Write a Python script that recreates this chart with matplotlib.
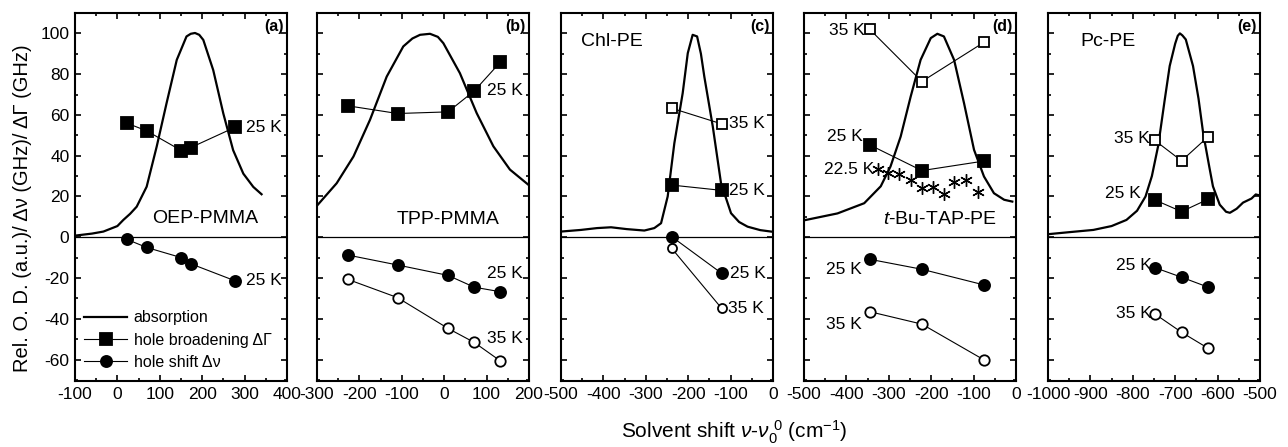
import numpy as np
import matplotlib
matplotlib.use("Agg")
import matplotlib.pyplot as plt
from matplotlib.ticker import MultipleLocator

plt.rcParams['font.family'] = ['Liberation Sans', 'DejaVu Sans']
plt.rcParams['mathtext.fontset'] = 'custom'
plt.rcParams['mathtext.rm'] = 'Liberation Sans'
plt.rcParams['mathtext.it'] = 'Liberation Sans:italic'
plt.rcParams['axes.unicode_minus'] = False

# =============================================================================
# DATA
# =============================================================================

# (a) OEP-PMMA
a_abs_x = [-100, -60, -33, 0, 14, 30, 45.5, 69, 92.7, 116, 140, 163, 173, 183, 193, 202.6, 226, 249.8, 273, 297, 320.5, 340]
a_abs_y = [0.8, 1.8, 2.8, 5.5, 8.5, 11.5, 15, 24.8, 44.5, 65.8, 87, 98.5, 99.8, 100.2, 99.3, 96.8, 82, 60.7, 42.7, 31.2, 24.7, 21.1]
a_x = [22, 69, 151, 173, 278]
a_broad_25 = [56, 52.2, 42.5, 44, 54]
a_shift_25 = [-1, -5, -10, -13, -21.4]

# (b) TPP-PMMA
b_abs_x = [-300, -253.6, -214, -175, -135.6, -96.5, -75, -57, -33.5, -15, -2, 37, 76.6, 116, 155, 200]
b_abs_y = [15.5, 26.5, 39.6, 57.6, 78.8, 93.6, 97.5, 99.3, 99.8, 98.3, 95.2, 80.5, 60.9, 44.6, 33.2, 25.5]
b_x = [-228, -110, 9, 71, 132]
b_broad_25 = [64.5, 60.7, 61.5, 71.8, 85.8]
b_shift_25 = [-8.7, -13.6, -18.7, -24.5, -26.7]
b_shift_35 = [-20.6, -29.6, -44.7, -51.6, -60.6]

# (c) Chl-PE
c_abs_x = [-500, -453, -415, -382, -345, -303.5, -280, -264, -248.4, -232.7, -213, -201, -189.5, -179, -170, -162, -142, -122.6, -99, -80, -60, -30, -4.7]
c_abs_y = [2.8, 3.6, 4.5, 4.9, 4.0, 3.3, 4.5, 6.9, 20, 46.1, 70.7, 90.3, 99.3, 98.5, 90, 78.8, 54.3, 26.5, 11.8, 7.5, 5.2, 3.5, 2.8]
c_x = [-239, -121]
c_broad_35 = [63.3, 55.6]
c_broad_25 = [25.6, 23]
c_shift_25 = [0.3, -17.7]
c_shift_35 = [-5.4, -34.9]

# (d) t-Bu-TAP-PE
d_abs_x = [-500, -421, -358, -319, -296, -272, -248.4, -225, -201, -185.5, -170, -146, -122.6, -99, -75.5, -52, -28, -8.7]
d_abs_y = [8.3, 11.7, 16.7, 25, 34.7, 49.4, 69, 87, 97.7, 99.8, 98.5, 87, 65.8, 42.9, 29.8, 21.6, 18.4, 17.5]
d_x = [-345, -222, -75]
d_broad_35 = [102, 76.4, 95.7]
d_broad_25 = [45.3, 32.7, 37.4]
d_shift_25 = [-10.8, -15.7, -23.4]
d_shift_35 = [-36.5, -42.6, -60.2]
d_star_x = [-326, -301, -275, -248, -221, -195, -170, -145.5, -119, -89]
d_star_y = [33.7, 31.6, 30.9, 28.1, 24.0, 24.5, 21.3, 27.3, 28.1, 22.4]

# (e) Pc-PE
e_abs_x = [-1000, -950, -893, -850, -815, -790, -770, -755, -740, -725, -713, -700, -694, -689, -683, -675, -658, -645, -634, -620, -611, -595, -580, -571, -555, -540, -520, -510, -500]
e_abs_y = [1.5, 2.5, 3.6, 5.5, 8.5, 13, 20, 30, 45, 67, 84, 95, 98.8, 100, 99, 97, 84, 68, 51, 35, 25, 16, 12.5, 12, 14, 17, 19, 21, 20.5]
e_x = [-748, -685, -622]
e_broad_35 = [47.5, 37.5, 49.4]
e_broad_25 = [18.3, 12.6, 18.7]
e_shift_25 = [-14.9, -19.6, -24.5]
e_shift_35 = [-37.6, -46.6, -54.5]

y_ticks = [-60, -40, -20, 0, 20, 40, 60, 80, 100]

# =============================================================================
# DRAWING
# =============================================================================

FS_TICK = 12.5
FS_NOTE = 12.5


def style_axes(ax, xlim, show_y):
    ax.set_xlim(*xlim)
    ax.set_ylim(-70.5, 110)
    ax.set_xticks(np.arange(xlim[0], xlim[1] + 1, 100))
    ax.xaxis.set_minor_locator(MultipleLocator(50))
    ax.set_yticks(y_ticks)
    ax.yaxis.set_minor_locator(MultipleLocator(10))
    ax.tick_params(which='both', direction='in', top=True, right=True, width=1.2)
    ax.tick_params(which='major', length=4.5, labelsize=FS_TICK, pad=4)
    ax.tick_params(which='minor', length=2.5)
    if not show_y:
        ax.tick_params(labelleft=False)
    for s in ax.spines.values():
        s.set_linewidth(1.5)
    ax.axhline(0, color='black', lw=0.9, zorder=1)


def absorption(ax, x, y):
    return ax.plot(x, y, color='black', lw=1.6, zorder=2)[0]


def series(ax, x, y, marker, filled, ms=8.5):
    return ax.plot(x, y, color='black', lw=0.8, marker=marker, ms=ms,
                   mfc='black' if filled else 'white', mec='black', mew=1.3, zorder=3)[0]


def panel_label(ax, s):
    ax.text(0.985, 0.985, s, transform=ax.transAxes, ha='right', va='top',
            fontsize=11.5, fontweight='bold')


fig = plt.figure(figsize=(12.88, 4.47), dpi=100)
lefts = [75, 317, 561, 804, 1048]
axes = [fig.add_axes([l / 1288, 1 - 381 / 447, 212 / 1288, 368 / 447]) for l in lefts]
ax_a, ax_b, ax_c, ax_d, ax_e = axes

# (a)
style_axes(ax_a, (-100, 400), True)
h_abs = absorption(ax_a, a_abs_x, a_abs_y)
h_sq = series(ax_a, a_x, a_broad_25, 's', True)
h_ci = series(ax_a, a_x, a_shift_25, 'o', True, ms=8)
ax_a.text(304, 54, '25 K', fontsize=FS_NOTE, va='center')
ax_a.text(304, -21.4, '25 K', fontsize=FS_NOTE, va='center')
ax_a.text(206, 9.4, 'OEP-PMMA', fontsize=14, ha='center', va='center')
panel_label(ax_a, '(a)')
ax_a.legend([h_abs, h_sq, h_ci], ['absorption', 'hole broadening ΔΓ', 'hole shift Δν'],
            loc='lower left', bbox_to_anchor=(-0.01, 0.0), frameon=False, fontsize=11.5,
            handlelength=2.7, handletextpad=0.4, labelspacing=0.45, borderaxespad=0.3)

# (b)
style_axes(ax_b, (-300, 200), False)
absorption(ax_b, b_abs_x, b_abs_y)
series(ax_b, b_x, b_broad_25, 's', True)
series(ax_b, b_x, b_shift_25, 'o', True, ms=8)
series(ax_b, b_x, b_shift_35, 'o', False, ms=7.5)
ax_b.text(102, 72, '25 K', fontsize=FS_NOTE, va='center')
ax_b.text(100, -17.7, '25 K', fontsize=FS_NOTE, va='center')
ax_b.text(100, -49.6, '35 K', fontsize=FS_NOTE, va='center')
ax_b.text(10, 8.8, 'TPP-PMMA', fontsize=14, ha='center', va='center')
panel_label(ax_b, '(b)')

# (c)
style_axes(ax_c, (-500, 0), False)
absorption(ax_c, c_abs_x, c_abs_y)
series(ax_c, c_x, c_broad_35, 's', False, ms=7.5)
series(ax_c, c_x, c_broad_25, 's', True)
series(ax_c, c_x, c_shift_25, 'o', True, ms=8)
series(ax_c, c_x, c_shift_35, 'o', False, ms=6.5)
ax_c.text(-104, 55.6, '35 K', fontsize=FS_NOTE, va='center')
ax_c.text(-104, 23, '25 K', fontsize=FS_NOTE, va='center')
ax_c.text(-102, -17.7, '25 K', fontsize=FS_NOTE, va='center')
ax_c.text(-107, -34.9, '35 K', fontsize=FS_NOTE, va='center')
ax_c.text(-453, 96, 'Chl-PE', fontsize=14, ha='left', va='center')
panel_label(ax_c, '(c)')

# (d)
style_axes(ax_d, (-500, 0), False)
absorption(ax_d, d_abs_x, d_abs_y)
series(ax_d, d_x, d_broad_35, 's', False, ms=7.5)
series(ax_d, d_x, d_broad_25, 's', True)
series(ax_d, d_x, d_shift_25, 'o', True, ms=8)
series(ax_d, d_x, d_shift_35, 'o', False, ms=7.5)
ax_d.plot(d_star_x, d_star_y, ls='none', marker=(6, 2, 0), ms=9, mec='black', mew=1.0, zorder=3)
ax_d.text(-357, 101.4, '35 K', fontsize=FS_NOTE, ha='right', va='center')
ax_d.text(-361, 49.4, '25 K', fontsize=FS_NOTE, ha='right', va='center')
ax_d.text(-335, 33.2, '22.5 K', fontsize=FS_NOTE, ha='right', va='center')
ax_d.text(-364, -16, '25 K', fontsize=FS_NOTE, ha='right', va='center')
ax_d.text(-364, -43, '35 K', fontsize=FS_NOTE, ha='right', va='center')
ax_d.text(-45, 8.5, r'$\mathit{t}$-Bu-TAP-PE', fontsize=14, ha='right', va='center')
panel_label(ax_d, '(d)')

# (e)
style_axes(ax_e, (-1000, -500), False)
absorption(ax_e, e_abs_x, e_abs_y)
series(ax_e, e_x, e_broad_35, 's', False, ms=7.5)
series(ax_e, e_x, e_broad_25, 's', True)
series(ax_e, e_x, e_shift_25, 'o', True, ms=8)
series(ax_e, e_x, e_shift_35, 'o', False, ms=7.5)
ax_e.text(-760, 48.6, '35 K', fontsize=FS_NOTE, ha='right', va='center')
ax_e.text(-782, 21.6, '25 K', fontsize=FS_NOTE, ha='right', va='center')
ax_e.text(-755, -13.9, '25 K', fontsize=FS_NOTE, ha='right', va='center')
ax_e.text(-755, -37.3, '35 K', fontsize=FS_NOTE, ha='right', va='center')
ax_e.text(-924, 96, 'Pc-PE', fontsize=14, ha='left', va='center')
panel_label(ax_e, '(e)')

fig.text(23 / 1288, 1 - 208 / 447, 'Rel. O. D. (a.u.)/ Δν (GHz)/ ΔΓ (GHz)',
         rotation=90, ha='center', va='center', fontsize=14.5)
fig.text(734 / 1288, 1 - 432 / 447, r'Solvent shift $\nu$-$\nu_0^{\ 0}$ (cm$^{-1}$)',
         ha='center', va='center', fontsize=15)

fig.savefig('out.png', dpi=100)
